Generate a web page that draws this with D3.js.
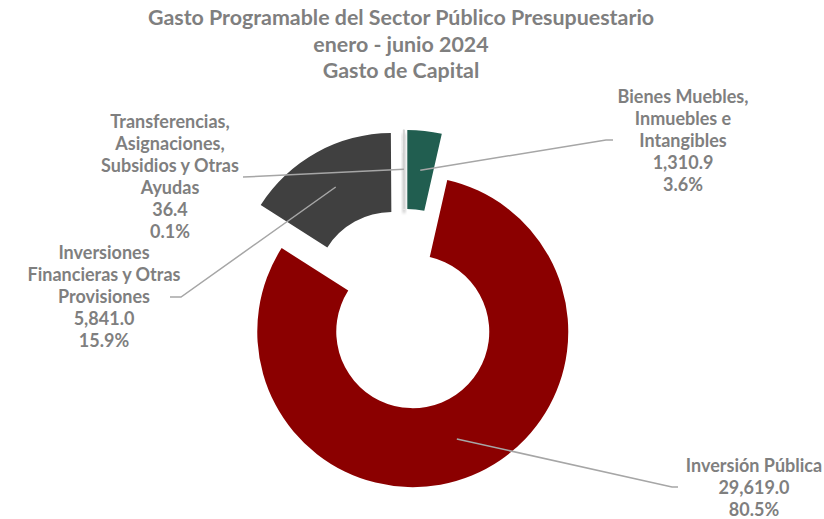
<!DOCTYPE html>
<html>
<head>
<meta charset="utf-8">
<script src="https://cdn.jsdelivr.net/npm/d3@7"></script>
<style>
  body { margin: 0; background: #fff; }
  text { font-family: Lato, "Noto Sans", sans-serif; font-weight: bold; fill: #7f7f7f; }
</style>
</head>
<body>
<div id="chart"></div>
<script>
const titleLines = ["Gasto Programable del Sector Público Presupuestario", "enero - junio 2024", "Gasto de Capital"];

const categories = [
    "Bienes Muebles, Inmuebles e Intangibles",
    "Inversión Pública",
    "Inversiones Financieras y Otras Provisiones",
    "Transferencias, Asignaciones, Subsidios y Otras Ayudas"
];
const values = [1310.9, 29619.0, 5841.0, 36.4];
const labelLines = [
    ["Bienes Muebles,", "Inmuebles e", "Intangibles"],
    ["Inversión Pública"],
    ["Inversiones", "Financieras y Otras", "Provisiones"],
    ["Transferencias,", "Asignaciones,", "Subsidios y Otras", "Ayudas"]
];
const colors = ["#215e50", "#8b0000", "#404040", "#ffffff"];

const width = 824;
const height = 519;
const cx = 404.4, cy = 311.3;
const outerR = 155.5, innerR = 76.5;
const explode = [26, 22, 26, 26];
// label box: center x, first line y, leader end point, elbow point
const labelPos = [
    {x: 683, y: 103, end: [613, 140], elbow: [606, 140]},
    {x: 754, y: 472, end: [678, 487], elbow: [672, 487]},
    {x: 104, y: 259, end: [170, 297], elbow: [181, 297]},
    {x: 170, y: 128, end: [243, 177], elbow: [243, 177]}
];
const lineH = 22;

const total = d3.sum(values);
const fmt = d3.format(",.1f");
const pct = v => d3.format(".1f")(v / total * 100) + "%";

const svg = d3.select("#chart").append("svg")
    .attr("width", width)
    .attr("height", height);

const defs = svg.append("defs");
const f = defs.append("filter").attr("id", "shadow")
    .attr("x", "-200%").attr("y", "-20%").attr("width", "500%").attr("height", "150%");
f.append("feDropShadow").attr("dx", 0).attr("dy", 4).attr("stdDeviation", 1.5)
    .attr("flood-color", "#000").attr("flood-opacity", 0.35);

// title
svg.append("g").selectAll("text")
    .data(titleLines)
    .join("text")
    .attr("x", 401)
    .attr("y", (d, i) => 25 + i * 26.5)
    .attr("text-anchor", "middle")
    .attr("font-size", 21.4)
    .text(d => d);

const pie = d3.pie().sort(null).value(d => d)(values);
const arc = d3.arc().innerRadius(innerR).outerRadius(outerR);

const offset = (d, i) => {
    const a = (d.startAngle + d.endAngle) / 2;
    return [explode[i] * Math.sin(a), -explode[i] * Math.cos(a)];
};

const slices = svg.append("g").attr("transform", `translate(${cx},${cy})`);
slices.selectAll("path")
    .data(pie)
    .join("path")
    .attr("transform", (d, i) => `translate(${offset(d, i)})`)
    .attr("d", arc)
    .attr("fill", (d, i) => colors[i])
    .attr("stroke", (d, i) => i == 3 ? "#d0d0d0" : "none")
    .attr("stroke-width", 1)
    .attr("filter", (d, i) => i == 3 ? "url(#shadow)" : null);

// leader lines
svg.append("g").selectAll("polyline")
    .data(pie)
    .join("polyline")
    .attr("fill", "none")
    .attr("stroke", "#a6a6a6")
    .attr("stroke-width", 1.5)
    .attr("points", (d, i) => {
        const o = offset(d, i);
        const c = arc.centroid(d);
        const p0 = [cx + o[0] + c[0], cy + o[1] + c[1]];
        return [p0, labelPos[i].elbow, labelPos[i].end].map(p => p.join(",")).join(" ");
    });

// labels
pie.forEach((d, i) => {
    const lines = labelLines[i].concat([fmt(values[i]), pct(values[i])]);
    svg.append("g").selectAll("text")
        .data(lines)
        .join("text")
        .attr("x", labelPos[i].x)
        .attr("y", (t, j) => labelPos[i].y + j * lineH)
        .attr("text-anchor", "middle")
        .attr("font-size", 18)
        .text(t => t);
});
</script>
</body>
</html>
